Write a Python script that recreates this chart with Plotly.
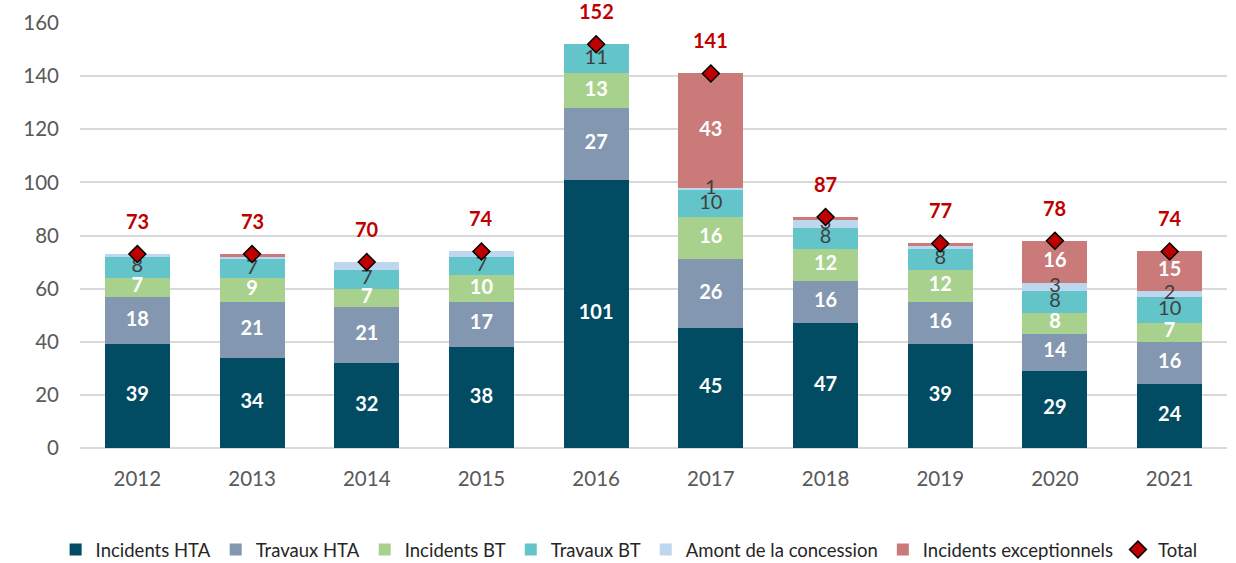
import plotly.graph_objects as go
import numpy as np

years = ["2012", "2013", "2014", "2015", "2016", "2017", "2018", "2019", "2020", "2021"]
incidents_hta = [39, 34, 32, 38, 101, 45, 47, 39, 29, 24]
travaux_hta = [18, 21, 21, 17, 27, 26, 16, 16, 14, 16]
incidents_bt = [7, 9, 7, 10, 13, 16, 12, 12, 8, 7]
travaux_bt = [8, 7, 7, 7, 11, 10, 8, 8, 8, 10]
amont = [1, 1, 3, 2, 0, 1, 3, 1, 3, 2]
exceptionnels = [0, 1, 0, 0, 0, 43, 1, 1, 16, 15]
totals = [73, 73, 70, 74, 152, 141, 87, 77, 78, 74]

# labels as displayed in the reference ("" = not shown)
lab_hta = [str(v) for v in incidents_hta]
lab_thta = [str(v) for v in travaux_hta]
lab_ibt = [str(v) for v in incidents_bt]
lab_tbt = [str(v) for v in travaux_bt]
lab_amont = ["", "", "", "", "", "1", "3", "1", "3", "2"]
lab_exc = ["0", "1", "", "", "", "43", "", "", "16", "15"]

series = [
    ("Incidents HTA", incidents_hta, "#014C63", lab_hta, "white", True),
    ("Travaux HTA", travaux_hta, "#8497B0", lab_thta, "white", True),
    ("Incidents BT", incidents_bt, "#A9D18E", lab_ibt, "white", True),
    ("Travaux BT", travaux_bt, "#63C4CA", lab_tbt, "#404040", False),
    ("Amont de la concession", amont, "#BDD7EE", lab_amont, "#404040", False),
    ("Incidents exceptionnels", exceptionnels, "#C97A79", lab_exc, "white", True),
]

FONT = "Lato"
fig = go.Figure()
base = np.zeros(len(years))
label_traces = []
for name, vals, col, labs, tcol, bold in series:
    v = np.array(vals, dtype=float)
    fig.add_trace(go.Bar(
        x=years, y=vals, name=name, marker=dict(color=col, line=dict(width=0)),
        hoverinfo="name+y",
    ))
    mids = base + v / 2
    txt = [f"<b>{t}</b>" if (bold and t) else t for t in labs]
    label_traces.append(go.Scatter(
        x=years, y=mids, mode="text", text=txt, showlegend=False, hoverinfo="skip",
        textfont=dict(color=tcol, size=20, family=FONT),
    ))
    base = base + v

for t in label_traces:
    fig.add_trace(t)

fig.add_trace(go.Scatter(
    x=years, y=totals, mode="markers", name="Total",
    marker=dict(symbol="diamond", color="#C00000", size=13, line=dict(color="black", width=1.5)),
))

for i, tot in enumerate(totals):
    fig.add_annotation(x=i, xref="x", y=tot, yref="y", text=f"<b>{tot}</b>", showarrow=False,
                       yshift=33, font=dict(color="#C00000", size=20, family=FONT))

fig.update_layout(
    barmode="stack",
    bargap=0.433,
    width=1236, height=563,
    margin=dict(l=80, r=9, t=23, b=115),
    plot_bgcolor="white", paper_bgcolor="white",
    font=dict(family=FONT, size=20, color="#595959"),
    showlegend=True,
    legend=dict(orientation="h", xref="container", yref="container",
                x=0.509, xanchor="center", y=0.023, yanchor="middle",
                font=dict(size=18.5, color="#262626"), traceorder="normal",
                itemwidth=30, tracegroupgap=0),
    xaxis=dict(type="category", range=[-0.5, 9.5], showgrid=False, ticks="", automargin=False,
               tickfont=dict(size=20.5, color="#595959"), showline=False, ticklabelstandoff=16),
    yaxis=dict(range=[0, 160], dtick=20, showgrid=True, gridcolor="#D9D9D9", gridwidth=1.5,
               zeroline=True, zerolinecolor="#D9D9D9", zerolinewidth=1.5, automargin=False,
               tickfont=dict(size=20.5, color="#595959"), ticks="", ticklabelstandoff=20),
)

fig.write_html("out.html", config={"displayModeBar": False},
               post_script="document.body.style.margin='0';document.body.style.overflow='hidden';")
